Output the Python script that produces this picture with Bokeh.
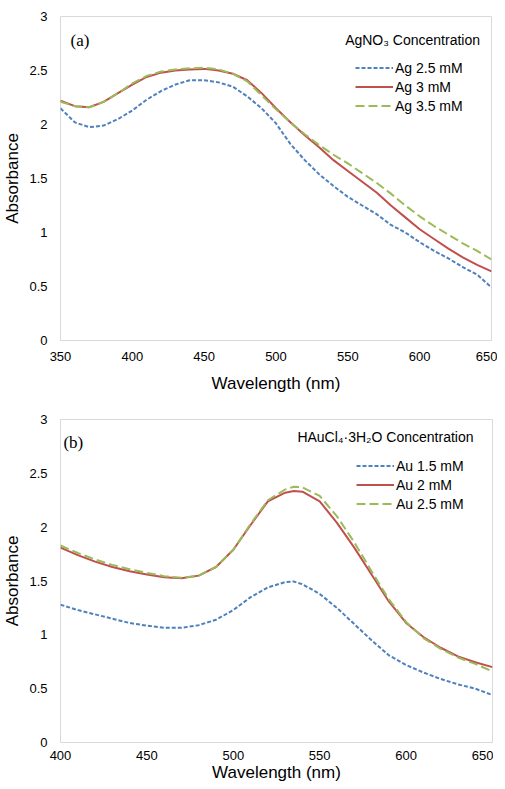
from bokeh.plotting import figure
from bokeh.layouts import column
from bokeh.models import Label, Legend, LegendItem, Range1d, FixedTicker
from bokeh.embed import file_html
from bokeh.resources import INLINE

# ---------------- data ----------------
wl_a = [350, 360, 370, 380, 390, 400, 410, 420, 430, 440, 450, 460, 470, 480, 490,
        500, 510, 520, 530, 540, 550, 560, 570, 580, 590, 600, 610, 620, 630, 640, 650]
ag_25 = [2.15, 2.02, 1.975, 1.99, 2.05, 2.13, 2.23, 2.31, 2.37, 2.41, 2.41, 2.39, 2.35, 2.26, 2.15,
         2.01, 1.82, 1.67, 1.54, 1.43, 1.33, 1.25, 1.17, 1.07, 1.00, 0.91, 0.83, 0.76, 0.68, 0.61, 0.49]
ag_3 = [2.22, 2.17, 2.16, 2.21, 2.29, 2.37, 2.44, 2.48, 2.50, 2.51, 2.515, 2.50, 2.47, 2.41, 2.29,
        2.15, 2.02, 1.90, 1.79, 1.67, 1.57, 1.47, 1.37, 1.25, 1.14, 1.03, 0.94, 0.85, 0.77, 0.70, 0.64]
ag_35 = [2.21, 2.17, 2.16, 2.21, 2.29, 2.38, 2.45, 2.49, 2.51, 2.52, 2.525, 2.51, 2.47, 2.40, 2.27,
         2.14, 2.02, 1.91, 1.81, 1.72, 1.64, 1.55, 1.46, 1.36, 1.25, 1.15, 1.06, 0.98, 0.90, 0.83, 0.75]

wl_b = [400, 410, 420, 430, 440, 450, 460, 470, 480, 490, 500, 510, 520, 530, 535,
        540, 550, 560, 570, 580, 590, 600, 610, 620, 630, 640, 650]
au_15 = [1.28, 1.23, 1.19, 1.15, 1.11, 1.085, 1.065, 1.065, 1.09, 1.14, 1.23, 1.35, 1.44, 1.49, 1.495,
         1.47, 1.38, 1.25, 1.10, 0.95, 0.81, 0.72, 0.65, 0.59, 0.54, 0.50, 0.44]
au_2 = [1.81, 1.74, 1.68, 1.63, 1.59, 1.56, 1.535, 1.525, 1.55, 1.63, 1.79, 2.02, 2.24, 2.32, 2.335,
        2.33, 2.24, 2.04, 1.81, 1.56, 1.31, 1.11, 0.98, 0.88, 0.80, 0.745, 0.70]
au_25 = [1.83, 1.76, 1.70, 1.65, 1.61, 1.575, 1.545, 1.53, 1.55, 1.63, 1.79, 2.03, 2.25, 2.35, 2.375,
         2.37, 2.29, 2.10, 1.86, 1.59, 1.33, 1.12, 0.97, 0.87, 0.79, 0.73, 0.66]

y_ticks = [0, 0.5, 1, 1.5, 2, 2.5, 3]
y_tick_labels = ["0", "0.5", "1", "1.5", "2", "2.5", "3"]
x_ticks_a = [350, 400, 450, 500, 550, 600, 650]
x_ticks_b = [400, 450, 500, 550, 600, 650]

labels_a = ["Ag 2.5 mM", "Ag 3 mM", "Ag 3.5 mM"]
labels_b = ["Au 1.5 mM", "Au 2 mM", "Au 2.5 mM"]
title_a = "AgNO\u2083 Concentration"
title_b = "HAuCl\u2084\u00b73H\u2082O Concentration"

COLORS = ["#4f81bd", "#c0504d", "#9bbb59"]
DASHES = ["4 2", "solid", "9 4"]
FONT = "Liberation Sans"


def make_panel(wl, series, labels, title, tag, xticks, xr, fw, fh, bl, br, bt, bb,
               leg_loc, title_xy, tag_xy, tick_stand, lab_stand):
    p = figure(frame_width=fw, frame_height=fh, x_range=Range1d(*xr), y_range=Range1d(0, 3),
               output_backend="svg", toolbar_location=None,
               min_border_left=bl, min_border_right=br, min_border_top=bt, min_border_bottom=bb)
    p.xgrid.visible = False
    p.ygrid.visible = False
    p.outline_line_color = "#d9d9d9"
    p.outline_line_width = 1
    p.background_fill_color = "white"
    p.border_fill_color = "white"

    p.xaxis.ticker = FixedTicker(ticks=xticks)
    p.yaxis.ticker = FixedTicker(ticks=y_ticks)
    p.yaxis.major_label_overrides = {t: s for t, s in zip(y_ticks, y_tick_labels)}
    for ax in (p.xaxis, p.yaxis):
        ax.axis_line_color = None
        ax.major_tick_line_color = None
        ax.minor_tick_line_color = None
        ax.major_tick_out = 0
        ax.major_label_text_font = FONT
        ax.major_label_text_font_size = "13px"
        ax.major_label_text_color = "#000000"
        ax.axis_label_text_font = FONT
        ax.axis_label_text_font_size = "17px"
        ax.axis_label_text_font_style = "normal"
        ax.axis_label_text_color = "#000000"
    p.xaxis.axis_label = "Wavelength (nm)"
    p.yaxis.axis_label = "Absorbance"
    p.xaxis.major_label_standoff = tick_stand
    p.xaxis.axis_label_standoff = lab_stand
    p.yaxis.major_label_standoff = 13
    p.yaxis.axis_label_standoff = 4

    items = []
    for ys, lab, c, d in zip(series, labels, COLORS, DASHES):
        r = p.line(wl, ys, line_color=c, line_width=2, line_dash=d)
        items.append(LegendItem(label=lab, renderers=[r]))

    leg = Legend(items=items, location=leg_loc, orientation="vertical",
                 glyph_width=38, glyph_height=19, label_height=19, spacing=0,
                 padding=0, margin=0, label_standoff=2,
                 border_line_color=None, background_fill_alpha=0,
                 label_text_font=FONT, label_text_font_size="14px", label_text_color="#000000")
    p.add_layout(leg)

    p.add_layout(Label(x=title_xy[0], y=title_xy[1], text=title, text_align="right",
                       text_baseline="middle", text_font=FONT, text_font_size="14px",
                       text_color="#000000"))
    p.add_layout(Label(x=tag_xy[0], y=tag_xy[1], text=tag, text_align="left",
                       text_baseline="middle", text_font="Liberation Serif",
                       text_font_size="17px", text_color="#000000",
                       background_fill_color="white"))
    return p


p1 = make_panel(wl_a, [ag_25, ag_3, ag_35], labels_a, title_a, "(a)", x_ticks_a, (350, 650),
                431, 324, 52, 6, 16, 40, (295, 225), (642, 2.78), (357, 2.78), 11, 10)
p2 = make_panel(wl_b, [au_15, au_2, au_25], labels_b, title_b, "(b)", x_ticks_b, (400, 650),
                432, 323, 56, 1, 24, 30, (296, 229), (639, 2.84), (401.7, 2.79), 8, 0)

layout = column(p1, p2, spacing=0)
open("out.html", "w").write(file_html(layout, INLINE))
